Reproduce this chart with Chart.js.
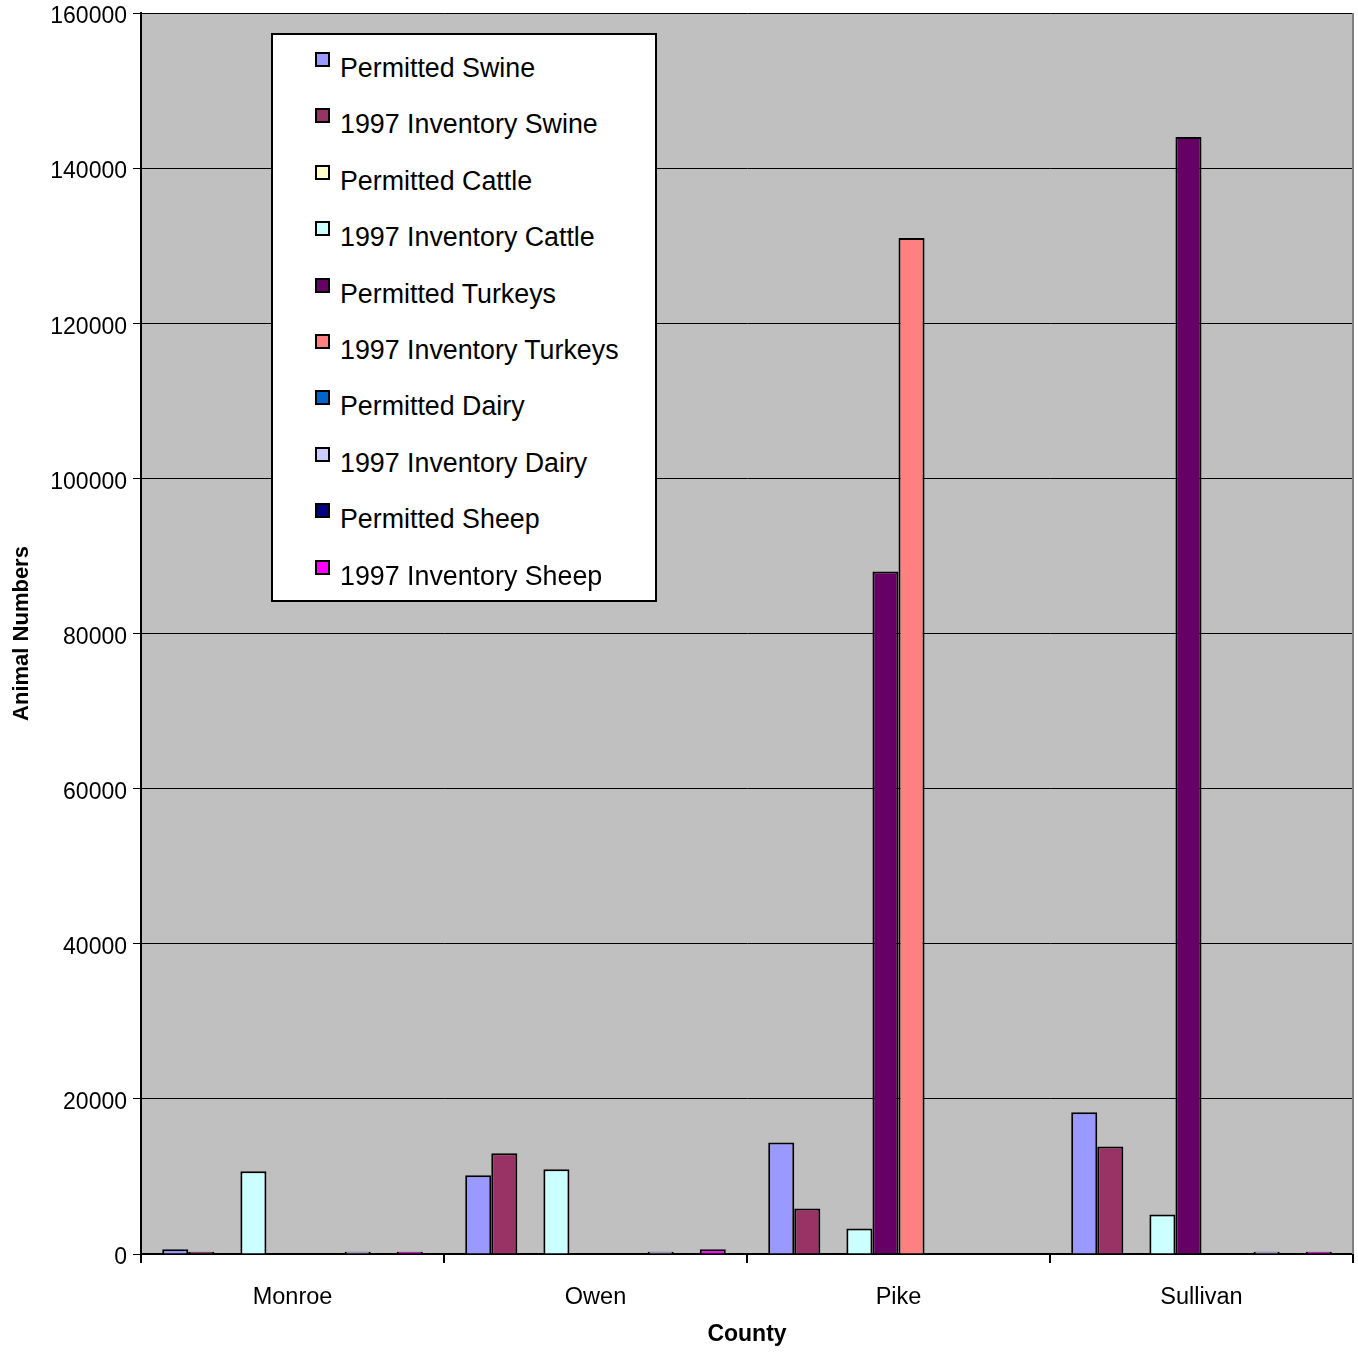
<!DOCTYPE html>
<html>
<head>
<meta charset="utf-8">
<script src="https://cdn.jsdelivr.net/npm/chart.js@4.4.0/dist/chart.umd.min.js"></script>
<style>
  html, body { margin: 0; padding: 0; background: #fff; }
  #wrap { position: relative; width: 1358px; height: 1352px; }
  #legend {
    position: absolute; left: 271px; top: 33px; width: 382px; height: 560px;
    background: #fff; border: 2px solid #000; padding-top: 5px; box-sizing: content-box;
    font-family: "Liberation Sans", Arial, sans-serif; font-size: 26.8px; color: #000;
  }
  .row { position: relative; height: 56.4px; line-height: 56.4px; }
  .row .mk { position: absolute; left: 42px; top: 12px; width: 11px; height: 11px; border: 2px solid #000; }
  .row .tx { position: absolute; left: 67px; top: 0; white-space: nowrap; }
</style>
</head>
<body>
<div id="wrap">
  <canvas id="chart"></canvas>
  <div id="legend"></div>
</div>
<script>
// --- data ---
const counties = ['Monroe', 'Owen', 'Pike', 'Sullivan'];

const seriesNames = [
  'Permitted Swine', '1997 Inventory Swine', 'Permitted Cattle', '1997 Inventory Cattle',
  'Permitted Turkeys', '1997 Inventory Turkeys', 'Permitted Dairy', '1997 Inventory Dairy',
  'Permitted Sheep', '1997 Inventory Sheep'
];
const seriesColors = [
  '#9999FF', '#993366', '#FFFFCC', '#CCFFFF', '#660066',
  '#FF8080', '#0066CC', '#CCCCFF', '#000080', '#FF00FF'
];

// values per series, in county order
const permittedSwine    = [600, 10150, 14390, 18260];
const inventorySwine    = [300, 12990, 5860, 13870];
const permittedCattle   = [0, 0, 0, 0];
const inventoryCattle   = [10670, 10930, 3280, 5090];
const permittedTurkeys  = [0, 0, 88000, 144000];
const inventoryTurkeys  = [0, 0, 131000, 0];
const permittedDairy    = [0, 0, 0, 0];
const inventoryDairy    = [300, 300, 0, 300];
const permittedSheep    = [0, 0, 0, 0];
const inventorySheep    = [300, 600, 0, 300];

const yTicks = [0, 20000, 40000, 60000, 80000, 100000, 120000, 140000, 160000];

const seriesValues = [
  permittedSwine, inventorySwine, permittedCattle, inventoryCattle, permittedTurkeys,
  inventoryTurkeys, permittedDairy, inventoryDairy, permittedSheep, inventorySheep
];

const FONT = '"Liberation Sans", Arial, sans-serif';
Chart.defaults.color = '#000';
Chart.defaults.font.family = FONT;

// plot background + gray right edge
const plotBg = {
  id: 'plotBg',
  beforeDraw(chart) {
    const { ctx, chartArea: a } = chart;
    ctx.save();
    ctx.fillStyle = '#C0C0C0';
    ctx.fillRect(a.left, a.top, a.right - a.left, a.bottom - a.top);
    ctx.restore();
  },
  afterDraw(chart) {
    const { ctx, chartArea: a } = chart;
    ctx.save();
    ctx.strokeStyle = '#808080';
    ctx.lineWidth = 2;
    ctx.beginPath();
    ctx.moveTo(a.right, a.top);
    ctx.lineTo(a.right, a.bottom);
    ctx.stroke();
    ctx.restore();
  }
};

const datasets = seriesNames.map((name, i) => ({
  label: name,
  data: seriesValues[i],
  backgroundColor: seriesColors[i],
  borderColor: '#000',
  borderWidth: 2,
  categoryPercentage: 0.86,
  barPercentage: 1.0
}));

new Chart(document.getElementById('chart'), {
  type: 'bar',
  data: { labels: counties, datasets },
  plugins: [plotBg],
  options: {
    responsive: true,
    maintainAspectRatio: false,
    animation: false,
    layout: { padding: { top: 13, right: 5, left: 0, bottom: 0 } },
    plugins: { legend: { display: false }, tooltip: { enabled: false } },
    scales: {
      x: {
        afterFit: (s) => { s.height = 98; },
        grid: { offset: true, drawOnChartArea: false, drawTicks: true, tickLength: 9, color: '#000', lineWidth: 2 },
        border: { color: '#000', width: 2 },
        ticks: { font: { size: 23.5 }, padding: 20 },
        title: { display: true, text: 'County', font: { size: 23, weight: 'bold' }, padding: { top: 16 } }
      },
      y: {
        min: 0,
        max: 160000,
        afterFit: (s) => { s.width = 141; s.paddingTop = 0; s.paddingBottom = 0; },
        afterBuildTicks: (s) => { s.ticks = yTicks.map(v => ({ value: v })); },
        grid: { color: '#000', lineWidth: 1, tickLength: 8 },
        border: { color: '#000', width: 2 },
        ticks: { font: { size: 23 }, padding: 6, labelOffset: 4, callback: (v) => String(v) },
        title: { display: true, text: 'Animal Numbers', font: { size: 22, weight: 'bold' }, padding: { top: 9, bottom: 0 } }
      }
    }
  }
});

// legend box drawn from the same series arrays
const legend = document.getElementById('legend');
seriesNames.forEach((name, i) => {
  const row = document.createElement('div');
  row.className = 'row';
  const mk = document.createElement('span');
  mk.className = 'mk';
  mk.style.background = seriesColors[i];
  const tx = document.createElement('span');
  tx.className = 'tx';
  tx.textContent = name;
  row.appendChild(mk);
  row.appendChild(tx);
  legend.appendChild(row);
});
</script>
</body>
</html>
